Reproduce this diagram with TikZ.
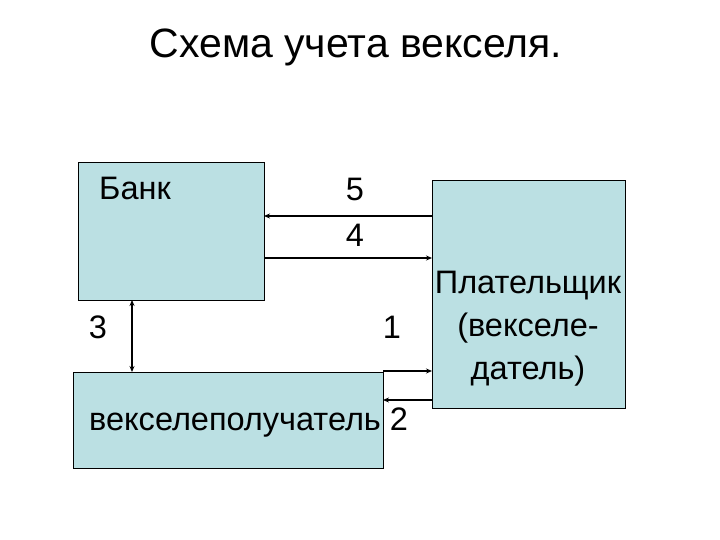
\documentclass[tikz,border=0pt]{standalone}
\usepackage{fontspec}
\setmainfont{Liberation Sans}
\usetikzlibrary{arrows.meta}
\definecolor{boxfill}{RGB}{187,224,227}
\begin{document}
\begin{tikzpicture}[x=1pt,y=-1pt,
  box/.style={draw=black,line width=1pt,fill=boxfill},
  lbl/.style={inner sep=0pt,anchor=base,font=\fontsize{32.5}{38}\selectfont},
  conn/.style={line width=1.6pt,-{Stealth[length=6pt,width=5pt]}},
  dconn/.style={line width=1.6pt,{Stealth[length=6pt,width=5pt]}-{Stealth[length=6pt,width=5pt]}}]
\useasboundingbox (0,0) rectangle (720,540);
% boxes
\path[box] (78,163) rectangle (264,300);
\coordinate (bankR4) at (264,258);
\coordinate (bankR5) at (264,216);
\coordinate (bankB) at (132,300);
\path[box] (432,181) rectangle (625,408);
\coordinate (payL5) at (432,216);
\coordinate (payL4) at (432,258);
\coordinate (payL1) at (432,371);
\coordinate (payL2) at (432,400);
\path[box] (73,372) rectangle (383,468);
\coordinate (recT) at (132,372);
\coordinate (recR1) at (383,371);
\coordinate (recR2) at (383,400);
% texts
\node[inner sep=0pt,anchor=base,font=\fontsize{41}{48}\selectfont] (title) at (356,58) {Схема учета векселя.};
\node[lbl,anchor=base west] (bank) at (99,200) {Банк};
\node[lbl] (l5) at (355,201) {5};
\node[lbl] (l4) at (355,246) {4};
\node[lbl] (l3) at (98,338) {3};
\node[lbl] (l1) at (392,338) {1};
\node[lbl,anchor=base west] (rec) at (89,430) {векселеполучатель};
\node[lbl] (l2) at (399,430) {2};
\node[lbl] (p1) at (528,293) {Плательщик};
\node[lbl] (p2) at (528,336) {(векселе-};
\node[lbl] (p3) at (528,379) {датель)};
% connectors
\draw[conn] (payL5) -- (bankR5);
\draw[conn] (bankR4) -- (payL4);
\draw[dconn] (bankB) -- (recT);
\draw[conn] (recR1) -- (payL1);
\draw[conn] (payL2) -- (recR2);
\end{tikzpicture}
\end{document}
